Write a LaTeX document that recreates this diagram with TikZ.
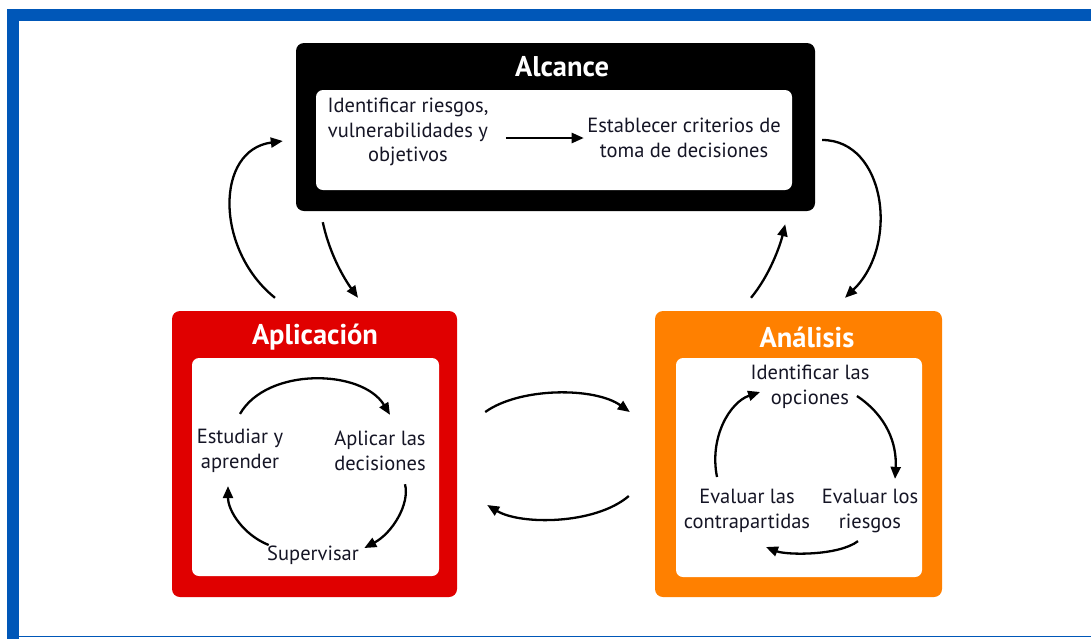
\documentclass[tikz,border=0pt]{standalone}
\usepackage{fontspec}
\setmainfont{PT Sans}
\usetikzlibrary{arrows.meta}
\definecolor{frameblue}{HTML}{0057B8}
\definecolor{aplred}{HTML}{E00000}
\definecolor{anaorange}{HTML}{FF8000}
\definecolor{txtcol}{HTML}{151525}
\tikzset{
  box/.style={rounded corners=8pt, inner sep=0pt},
  inner/.style={fill=white, rounded corners=7pt, inner sep=0pt},
  title/.style={text=white, font=\fontsize{28.5}{32}\selectfont\bfseries},
  txt/.style={text=txtcol, align=center, font=\fontsize{20.5}{24.5}\selectfont},
  arr/.style={line width=2.3pt, -{Triangle[length=12pt,width=10pt]}}
}
\begin{document}
\begin{tikzpicture}[x=1pt,y=-1pt]
\useasboundingbox (0,0) rectangle (1091,638);
% Draw frame
\draw[frameblue, line width=12pt] (13,645) -- (13,15) -- (1100,15);
\draw[frameblue, line width=1.5pt] (13,636.5) -- (1100,636.5);

% Draw boxes
\node[box, fill=black, minimum width=519pt, minimum height=168pt] (alcance) at (555.5,127) {};
\node[inner, minimum width=476pt, minimum height=100pt] (alcin) at (554,140) {};
\node[box, fill=aplred, minimum width=285pt, minimum height=286pt] (aplic) at (314.5,454) {};
\node[inner, minimum width=247pt, minimum height=218pt] (aplin) at (315.5,467) {};
\node[box, fill=anaorange, minimum width=287pt, minimum height=286pt] (analisis) at (798.5,454) {};
\node[inner, minimum width=246pt, minimum height=219pt] (anain) at (799,467.5) {};

% Titles
\node[title] (alctitle) at (562,67) {Alcance};
\node[title] (apltitle) at (315,337) {Aplicación};
\node[title] (anatitle) at (807,337) {Análisis};

% Alcance
\node[txt] (ident) at (408,132) {Identificar riesgos,\\vulnerabilidades y\\objetivos};
\node[txt] (estab) at (684,138) {Establecer criterios de\\toma de decisiones};
\draw[arr, shorten <=14pt] (ident.east |- estab.west) -- (estab.west);

% Aplicacion cycle
\node[txt] (estud) at (240,451) {Estudiar y\\aprender};
\node[txt] (aplicar) at (380,451) {Aplicar las\\decisiones};
\node[txt] (superv) at (313,555) {Supervisar};
\draw[arr] ([yshift=12pt]estud.north) .. controls +(27,-47) and +(-28,-46) .. ([xshift=10pt,yshift=13pt]aplicar.north);
\draw[arr] ([xshift=25pt,yshift=-10pt]aplicar.south) .. controls +(5,20) and +(28,-15) .. ([xshift=2pt,yshift=7pt]superv.east);
\draw[arr] ([xshift=5pt,yshift=10pt]superv.west) .. controls +(-25,-10) and +(0,25) .. ([xshift=-12pt,yshift=-10pt]estud.south);

% Analisis cycle
\node[txt] (opc) at (810,387) {Identificar las\\opciones};
\node[txt] (eriesg) at (870,511) {Evaluar los\\riesgos};
\node[txt] (econtra) at (747,511) {Evaluar las\\contrapartidas};
\draw[arr] ([xshift=-16pt,yshift=-9pt]opc.east) .. controls +(30,20) and +(2,-35) .. ([xshift=25pt,yshift=7pt]eriesg.north);
\draw[arr] ([xshift=-12pt,yshift=-5pt]eriesg.south) .. controls +(-20,15) and +(20,8) .. ([xshift=19pt,yshift=-11pt]econtra.south);
\draw[arr] ([xshift=-30pt,yshift=9pt]econtra.north) .. controls +(-8,-40) and +(-30,10) .. ([xshift=13pt,yshift=-5pt]opc.west);

% Between boxes
\draw[arr] ([xshift=28pt,yshift=42pt]aplic.east) .. controls +(35,-25) and +(-35,-25) .. ([xshift=-25pt,yshift=42pt]analisis.west);
\draw[arr] ([xshift=-26pt,yshift=-42pt]analisis.west) .. controls +(-34,29) and +(33,20) .. ([xshift=30pt,yshift=-51pt]aplic.east);
\draw[arr] ([xshift=-39.5pt,yshift=13pt]aplic.north) .. controls +(-60,-48) and +(-68,9) .. ([xshift=-13pt,yshift=-14pt]alcance.west);
\draw[arr] ([xshift=27pt,yshift=-11pt]alcance.south west) .. controls +(7,33) and +(-13,-18) .. ([xshift=43.5pt,yshift=13pt]aplic.north);
\draw[arr] ([xshift=-47.5pt,yshift=13pt]analisis.north) .. controls +(19,-23) and +(-5,21) .. ([xshift=-30pt,yshift=-13pt]alcance.south east);
\draw[arr] ([xshift=7pt,yshift=-13pt]alcance.east) .. controls +(63,0) and +(55,-53) .. ([xshift=46.5pt,yshift=13pt]analisis.north);
\end{tikzpicture}
\end{document}
